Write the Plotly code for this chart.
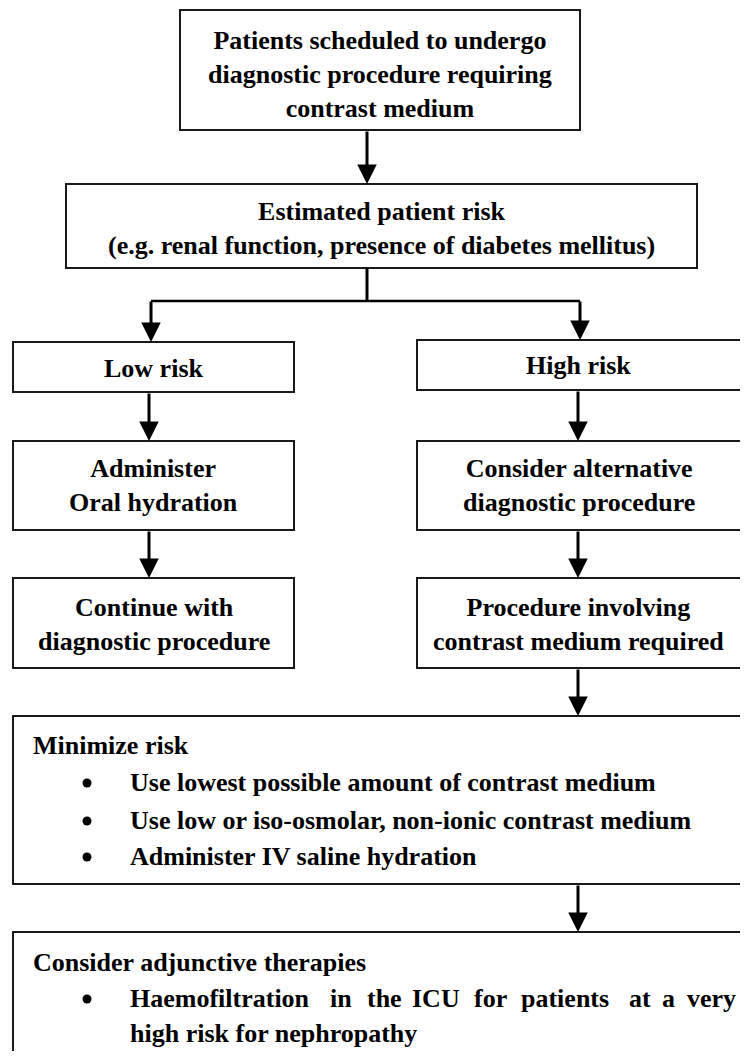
import plotly.graph_objects as go

# ---- content ----
box_texts = [
    "Patients scheduled to undergo<br>diagnostic procedure requiring<br>contrast medium",
    "Estimated patient risk<br>(e.g. renal function, presence of diabetes mellitus)",
    "Low risk",
    "High risk",
    "Administer<br>Oral hydration",
    "Consider alternative<br>diagnostic procedure",
    "Continue with<br>diagnostic procedure",
    "Procedure involving<br>contrast medium required",
]
minimize_title = "Minimize risk"
minimize_items = [
    "Use lowest possible amount of contrast medium",
    "Use low or iso-osmolar, non-ionic contrast medium",
    "Administer IV saline hydration",
]
adjunct_title = "Consider adjunctive therapies"
adjunct_line1 = "Haemofiltration in the ICU for patients at a very"
adjunct_line2 = "high risk for nephropathy"

# ---- layout geometry (page pixels, y down) ----
OFF = 8  # default body margin of the html page
W, H = 748, 1059
boxes = [  # x0, y0, x1, y1, text-centre y
    (180, 10, 580, 130, 74),
    (66, 184, 697, 268, 228),
    (13, 342, 294, 392, 368),
    (417, 340, 760, 390, 365),
    (13, 441, 294, 530, 485),
    (417, 441, 760, 530, 485),
    (13, 578, 294, 668, 624),
    (417, 578, 760, 668, 624),
]
big_boxes = [(13, 716, 760, 884), (13, 932, 760, 1080)]
minimize_rows = [782, 820, 856]
adjunct_rows = [998, 1033]

FAM = "Liberation Serif"
LC = "#1a1a1a"

def b(t):
    return "<b>" + t.replace("<br>", "</b><br><b>") + "</b>"

fig = go.Figure()

for (x0, y0, x1, y1, ty), t in zip(boxes, box_texts):
    fig.add_shape(type="rect", xref="x", yref="y", x0=x0, y0=y0, x1=x1, y1=y1,
                  line=dict(color=LC, width=2), fillcolor="white", layer="below")
    cx = (x0 + x1) / 2 if x1 <= W else (x0 + 740) / 2
    fig.add_annotation(x=cx, y=ty, xref="x", yref="y", text=b(t), showarrow=False,
                       font=dict(family=FAM, size=26, color="black"),
                       align="center", xanchor="center", yanchor="middle")

for (x0, y0, x1, y1) in big_boxes:
    fig.add_shape(type="rect", xref="x", yref="y", x0=x0, y0=y0, x1=x1, y1=y1,
                  line=dict(color=LC, width=2), fillcolor="white", layer="below")

for (xa, ya, xb, yb, lw) in [(367, 268, 367, 301, 3), (151, 301, 580, 301, 2.5)]:
    fig.add_shape(type="line", xref="x", yref="y", x0=xa, y0=ya, x1=xb, y1=yb,
                  line=dict(color="black", width=lw))

arrows = [
    (367, 130, 367, 184),
    (151, 300, 151, 342),
    (580, 300, 580, 340),
    (149, 392, 149, 441),
    (578, 390, 578, 441),
    (149, 530, 149, 578),
    (578, 530, 578, 578),
    (578, 668, 578, 716),
    (578, 884, 578, 932),
]
for (xt, yt, xh, yh) in arrows:
    fig.add_annotation(x=xh, y=yh, ax=xt, ay=yt, xref="x", yref="y", axref="x", ayref="y",
                       text="", showarrow=True, arrowhead=2, arrowsize=1.3, arrowwidth=3,
                       arrowcolor="black", standoff=0, startstandoff=0)

def left_text(x, y, t):
    fig.add_annotation(x=x - 2, y=y, xref="x", yref="y", text=b(t), showarrow=False,
                       font=dict(family=FAM, size=26, color="black"),
                       xanchor="left", yanchor="middle", align="left")

# bullet dots
bullet_rows = minimize_rows + adjunct_rows[:1]
fig.add_trace(go.Scatter(x=[87] * len(bullet_rows), y=[r + 1 for r in bullet_rows], mode="markers",
                         marker=dict(symbol="circle", size=9, color="black"),
                         hoverinfo="skip", showlegend=False))

left_text(33, 745, minimize_title)
for y, t in zip(minimize_rows, minimize_items):
    left_text(130, y, t)

left_text(33, 962, adjunct_title)
word_x = [130, 330, 367, 412, 474, 521, 629, 662, 687]
for wx, w in zip(word_x, adjunct_line1.split(" ")):
    left_text(wx, adjunct_rows[0], w)
left_text(130, adjunct_rows[1], adjunct_line2)

fig.update_layout(
    width=W - OFF, height=H - 2 * OFF, margin=dict(l=0, r=0, t=0, b=0, pad=0),
    paper_bgcolor="white", plot_bgcolor="white",
    font=dict(family=FAM, color="black"),
    xaxis=dict(range=[OFF, W], visible=False, fixedrange=True),
    yaxis=dict(range=[H - OFF, OFF], visible=False, fixedrange=True),
    showlegend=False,
)
fig.write_html("out.html")
